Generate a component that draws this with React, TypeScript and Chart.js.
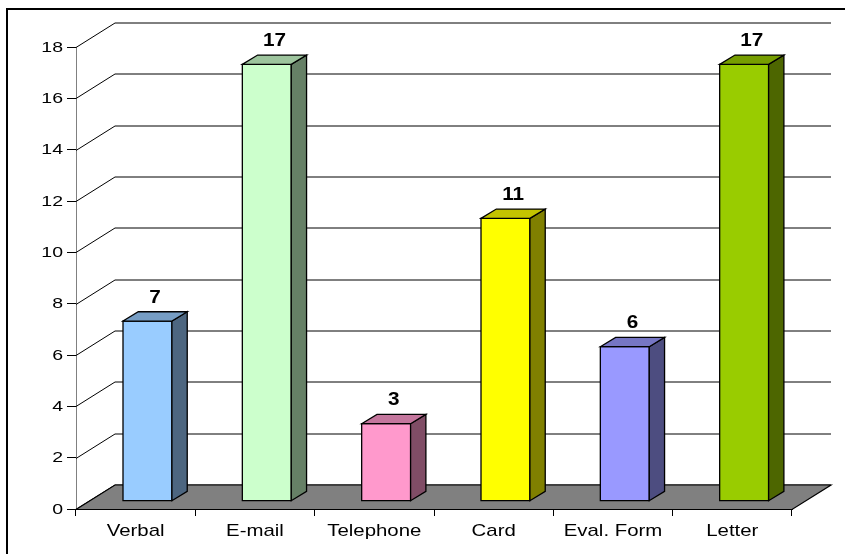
import { useEffect, useRef } from "react";
import { Chart, registerables } from "chart.js";

Chart.register(...registerables);

const categories = ["Verbal", "E-mail", "Telephone", "Card", "Eval. Form", "Letter"];
const values = [7, 17, 3, 11, 6, 17];
const frontColors = ["#99CCFF", "#CCFFCC", "#FF99CC", "#FFFF00", "#9999FF", "#99CC00"];
const yMin = 0;
const yMax = 18;
const yStep = 2;

// 3D geometry (pixels)
const DEPTH_DX = 39;
const DEPTH_DY = -24.5;
const BAR_OX = 11.8;
const BAR_OY = -8.3;
const BAR_DX = 15.3;
const BAR_DY = -9.3;

function shade(hex: string, f: number): string {
  const n = parseInt(hex.slice(1), 16);
  const r = Math.round(((n >> 16) & 255) * f);
  const g = Math.round(((n >> 8) & 255) * f);
  const b = Math.round((n & 255) * f);
  return `rgb(${r},${g},${b})`;
}

const FONT = '"Liberation Sans", Arial, sans-serif';

function stretchedText(
  ctx: CanvasRenderingContext2D,
  text: string,
  x: number,
  y: number,
  font: string,
  sx: number,
  align: CanvasTextAlign,
  baseline: CanvasTextBaseline
) {
  ctx.save();
  ctx.translate(x, y);
  ctx.scale(sx, 1);
  ctx.font = font;
  ctx.fillStyle = "#000";
  ctx.textAlign = align;
  ctx.textBaseline = baseline;
  ctx.fillText(text, 0, 0);
  ctx.restore();
}

const threeDPlugin = {
  id: "threeD",
  beforeDraw(chart: any) {
    const ctx = chart.ctx;
    ctx.save();
    ctx.fillStyle = "#fff";
    ctx.fillRect(0, 0, chart.width, chart.height);
    ctx.strokeStyle = "#000";
    ctx.lineWidth = 2;
    ctx.strokeRect(7, 9, 900, 600);
    ctx.restore();
  },
  beforeDatasetsDraw(chart: any) {
    const ctx = chart.ctx;
    const { left, right } = chart.chartArea;
    const ys = chart.scales.y;
    const y0 = ys.getPixelForValue(0);
    ctx.save();
    ctx.strokeStyle = "#000";
    ctx.lineWidth = 1;
    ys.ticks.forEach((t: any) => {
      const p = Math.round(ys.getPixelForValue(t.value)) + 0.5;
      ctx.beginPath();
      ctx.moveTo(left, p);
      ctx.lineTo(left + DEPTH_DX, p + DEPTH_DY);
      ctx.lineTo(right + DEPTH_DX, p + DEPTH_DY);
      ctx.stroke();
    });
    const fy = Math.round(y0) + 0.5;
    ctx.beginPath();
    ctx.moveTo(left, fy);
    ctx.lineTo(right, fy);
    ctx.lineTo(right + DEPTH_DX, fy + DEPTH_DY);
    ctx.lineTo(left + DEPTH_DX, fy + DEPTH_DY);
    ctx.closePath();
    ctx.fillStyle = "#808080";
    ctx.fill();
    ctx.strokeStyle = "#000";
    ctx.lineWidth = 1.2;
    ctx.stroke();
    ctx.restore();
  },
  afterDatasetsDraw(chart: any) {
    const ctx = chart.ctx;
    const meta = chart.getDatasetMeta(0);
    const ys = chart.scales.y;
    ctx.save();
    meta.data.forEach((el: any, i: number) => {
      const { x, width } = el.getProps(["x", "width"], true);
      const top = ys.getPixelForValue(values[i]);
      const base = ys.getPixelForValue(0);
      const l = x - width / 2 + BAR_OX;
      const r = x + width / 2 + BAR_OX;
      const t = top + BAR_OY;
      const b = base + BAR_OY;
      const c = frontColors[i];
      ctx.strokeStyle = "#000";
      ctx.lineWidth = 1.3;
      ctx.beginPath();
      ctx.rect(l, t, r - l, b - t);
      ctx.fillStyle = c;
      ctx.fill();
      ctx.stroke();
      ctx.beginPath();
      ctx.moveTo(r, t);
      ctx.lineTo(r + BAR_DX, t + BAR_DY);
      ctx.lineTo(r + BAR_DX, b + BAR_DY);
      ctx.lineTo(r, b);
      ctx.closePath();
      ctx.fillStyle = shade(c, 0.5);
      ctx.fill();
      ctx.stroke();
      ctx.beginPath();
      ctx.moveTo(l, t);
      ctx.lineTo(l + BAR_DX, t + BAR_DY);
      ctx.lineTo(r + BAR_DX, t + BAR_DY);
      ctx.lineTo(r, t);
      ctx.closePath();
      ctx.fillStyle = shade(c, 0.77);
      ctx.fill();
      ctx.stroke();
      stretchedText(
        ctx,
        String(values[i]),
        (l + r) / 2 + BAR_DX / 2,
        t + BAR_DY - 9,
        `bold 18px ${FONT}`,
        1.15,
        "center",
        "alphabetic"
      );
    });
    ctx.restore();
  },
  afterDraw(chart: any) {
    const ctx = chart.ctx;
    const xs = chart.scales.x;
    const ys = chart.scales.y;
    const bottom = chart.chartArea.bottom;
    xs.ticks.forEach((_t: any, i: number) => {
      stretchedText(
        ctx,
        String(xs.getLabelForValue(i)),
        xs.getPixelForTick(i),
        bottom + 27,
        `17px ${FONT}`,
        1.2,
        "center",
        "alphabetic"
      );
    });
    ys.ticks.forEach((t: any) => {
      stretchedText(
        ctx,
        String(t.label),
        63,
        ys.getPixelForValue(t.value) + 0.5,
        `15px ${FONT}`,
        1.3,
        "right",
        "middle"
      );
    });
  },
};

export default function App() {
  const ref = useRef<HTMLCanvasElement | null>(null);
  useEffect(() => {
    if (!ref.current) return;
    const chart = new Chart(ref.current, {
      type: "bar",
      data: {
        labels: categories,
        datasets: [
          {
            data: values,
            backgroundColor: "rgba(0,0,0,0)",
            borderWidth: 0,
            barPercentage: 0.41,
            categoryPercentage: 1,
          },
        ],
      },
      options: {
        responsive: false,
        animation: false,
        devicePixelRatio: 1,
        layout: { padding: { left: 0, top: 47, right: 53, bottom: 0 } },
        plugins: {
          legend: { display: false },
          tooltip: { enabled: false },
          title: { display: false },
        },
        scales: {
          x: {
            afterFit: (s: any) => {
              s.height = 45;
            },
            grid: {
              drawOnChartArea: false,
              drawTicks: true,
              tickLength: 7,
              color: "#000",
              offset: true,
            },
            border: { display: true, color: "#000" },
            ticks: { display: false, autoSkip: false },
          },
          y: {
            min: yMin,
            max: yMax,
            afterFit: (s: any) => {
              s.width = 76;
            },
            grid: {
              drawOnChartArea: false,
              drawTicks: true,
              tickLength: 9,
              color: "#000",
            },
            border: { display: true, color: "#808080" },
            ticks: { display: false, stepSize: yStep },
          },
        },
      },
      plugins: [threeDPlugin],
    });
    return () => chart.destroy();
  }, []);
  return (
    <div style={{ position: "fixed", left: 0, top: 0, width: 845, height: 554, overflow: "hidden", background: "#fff" }}>
      <canvas ref={ref} width={845} height={554} style={{ display: "block" }} />
    </div>
  );
}
